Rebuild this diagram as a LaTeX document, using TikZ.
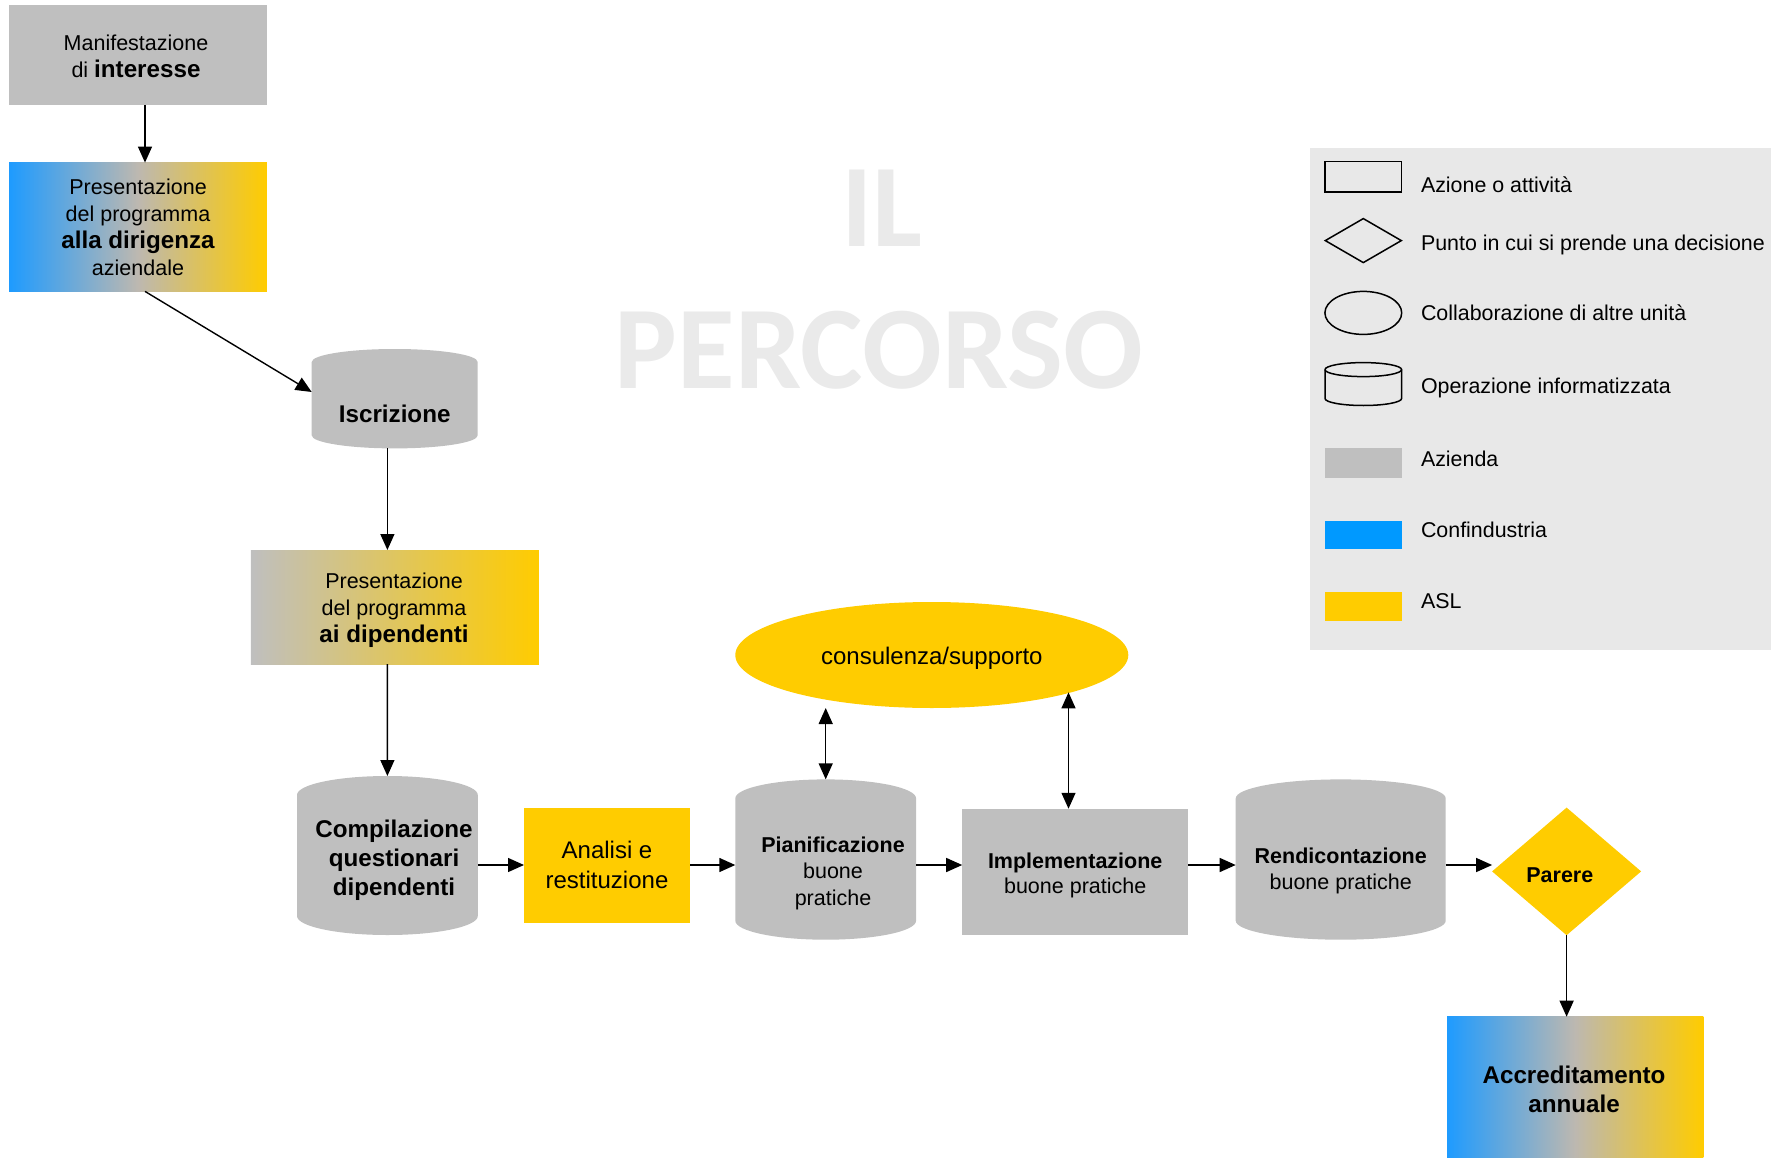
\documentclass[tikz,border=0pt]{standalone}
\usepackage{fontspec}
\setmainfont{Liberation Sans}
\newfontfamily\titlefont{Carlito}
\usetikzlibrary{shapes.geometric,arrows.meta,calc}
\definecolor{grey0}{HTML}{BFBFBF}
\definecolor{yellow0}{HTML}{FFCC00}
\definecolor{blue0}{HTML}{0099FF}
\definecolor{blueg}{HTML}{1E9BFF}
\definecolor{midg}{HTML}{BDB8B0}
\definecolor{legbg}{HTML}{E8E8E8}
\definecolor{titleg}{HTML}{EAEAEA}
\newcommand\bigb{\bfseries\fontsize{24.2}{27}\selectfont}
% #1 style, #2 cx, #3 half width, #4 top, #5 bottom, #6 ry
\newcommand\mycyl[6]{\path[#1] (#2-#3,#4+#6) arc[start angle=180,end angle=0,x radius=#3pt,y radius=#6pt] -- (#2+#3,#5-#6) arc[start angle=0,end angle=-180,x radius=#3pt,y radius=#6pt] -- cycle;}
\begin{document}
\begin{tikzpicture}[x=1pt,y=-1pt,
  every node/.style={inner sep=0pt, outer sep=0pt},
  txt/.style={align=center, font=\fontsize{21.5}{27}\selectfont},
  legtxt/.style={anchor=west, text height=15pt, text depth=0pt, font=\fontsize{21.4}{25}\selectfont},
  arr/.style={-{Triangle[length=16pt,width=14pt]}, line width=1.4pt},
  darr/.style={{Triangle[length=16pt,width=14pt]}-{Triangle[length=16pt,width=14pt]}, line width=1.4pt},
  legline/.style={draw, line width=1.5pt}]
\useasboundingbox (0,0) rectangle (1771,1158);

% title
\node[font=\titlefont\bfseries\fontsize{118}{130}\selectfont, text=titleg, anchor=base] (t1) at (882,247) {IL};
\node[font=\titlefont\bfseries\fontsize{118}{130}\selectfont, text=titleg, anchor=base] (t2) at (879,388) {PERCORSO};

% legend
\node[fill=legbg, minimum width=461pt, minimum height=501.5pt] (leg) at (1540.5,398.75) {};
\node[legline, minimum width=76.5pt, minimum height=30.5pt] (lrect) at (1363.3,176.8) {};
\node[legline, diamond, minimum width=76pt, minimum height=44pt] (ldia) at (1363.3,240.6) {};
\node[legline, ellipse, minimum width=76.8pt, minimum height=43pt] (lell) at (1363.3,312.9) {};
\mycyl{legline}{1363.3}{38.3}{362.6}{405.5}{7}
\draw[line width=1.5pt] (1363.3-38.3,362.6+7) arc[start angle=180,end angle=360,x radius=38.3pt,y radius=7pt];
\node[fill=grey0, minimum width=76.5pt, minimum height=29.4pt] (laz) at (1363.3,463.1) {};
\node[fill=blue0, minimum width=76.5pt, minimum height=28.3pt] (lcf) at (1363.3,534.9) {};
\node[fill=yellow0, minimum width=76.5pt, minimum height=29.3pt] (lasl) at (1363.3,606.6) {};
\node[legtxt] (lt1) at (1421,185.2) {Azione o attività};
\node[legtxt] (lt2) at (1421,242.8) {Punto in cui si prende una decisione};
\node[legtxt] (lt3) at (1421,312.9) {Collaborazione di altre unità};
\node[legtxt] (lt4) at (1421,386.3) {Operazione informatizzata};
\node[legtxt] (lt5) at (1421,458.6) {Azienda};
\node[legtxt] (lt6) at (1421,529.7) {Confindustria};
\node[legtxt] (lt7) at (1421,601) {ASL};

% flow
\node[fill=grey0, minimum width=258pt, minimum height=100pt] (man) at (138,55) {};
\node[txt] (mant) at (136,56.5) {Manifestazione\\di {\bigb interesse}};
\node[left color=blueg, right color=yellow0, middle color=midg, minimum width=257.6pt, minimum height=128.8pt, txt] (pres1) at (138,227) {Presentazione\\del programma\\{\bigb alla dirigenza}\\aziendale};

\mycyl{fill=grey0}{394.7}{83}{349}{448.4}{13}
\node[minimum width=166pt, minimum height=99.4pt] (iscr) at (394.7,398.7) {};
\node[font=\bigb] (iscrt) at (394.7,414) {Iscrizione};

\node[left color=grey0, right color=yellow0, minimum width=288pt, minimum height=114pt] (pres2) at (394.8,607) {};
\node[txt] (pres2t) at (394,610) {Presentazione\\del programma\\{\bigb ai dipendenti}};

\mycyl{fill=grey0}{387.4}{90.4}{776}{935}{19}
\node[minimum width=180.8pt, minimum height=159pt] (comp) at (387.4,855.5) {};
\node[align=center, font=\bfseries\fontsize{24.2}{29}\selectfont] (compt) at (394,860) {Compilazione\\questionari\\dipendenti};

\node[fill=yellow0, minimum width=166pt, minimum height=115pt, align=center, font=\fontsize{24}{29.3}\selectfont] (anal) at (607,865) {Analisi e\\restituzione};

\mycyl{fill=grey0}{825.7}{90.4}{779.4}{939.7}{19}
\node[minimum width=180.8pt, minimum height=160.3pt] (pian) at (825.7,859.5) {};
\node[align=center, font=\fontsize{21.5}{26.5}\selectfont] (piant) at (833,873.4) {{\bfseries Pianificazione}\\buone\\pratiche};

\node[ellipse, fill=yellow0, minimum width=393pt, minimum height=106pt] (cons) at (931.8,655) {};
\node[font=\fontsize{24}{28}\selectfont] (const) at (931.8,658.4) {consulenza/supporto};

\node[fill=grey0, minimum width=226pt, minimum height=126.5pt] (impl) at (1075.2,872) {};
\node[align=center, font=\fontsize{21.5}{25}\selectfont] (implt) at (1075.2,875) {{\bfseries Implementazione}\\buone pratiche};

\mycyl{fill=grey0}{1340.7}{105}{779.4}{939.7}{19}
\node[minimum width=210pt, minimum height=160.3pt] (rend) at (1340.7,859.5) {};
\node[align=center, font=\fontsize{21.5}{26}\selectfont] (rendt) at (1340.7,871.4) {{\bfseries Rendicontazione}\\buone pratiche};

\node[diamond, fill=yellow0, minimum width=149pt, minimum height=127.6pt] (par) at (1566.6,871.4) {};
\node[font=\bfseries\fontsize{21.5}{25}\selectfont] (part) at (1559.8,874.8) {Parere};

\node[left color=blueg, right color=yellow0, middle color=midg, minimum width=256.3pt, minimum height=141pt] (accr) at (1575.2,1087.2) {};
\node[align=center, font=\bfseries\fontsize{24.2}{29.5}\selectfont] (accrt) at (1574,1089.5) {Accreditamento\\annuale};

% connectors
\draw[arr] ([xshift=7pt]man.south) -- ([xshift=7pt]pres1.north);
\draw[arr] ([xshift=7pt]pres1.south) -- ([yshift=6.7pt]iscr.west);
\draw[arr] ([xshift=-7.3pt]iscr.south) -- ([xshift=-7.3pt]iscr.south |- pres2.north);
\draw[arr] ([xshift=-7.4pt]pres2.south) -- (comp.north);
\draw[arr] (comp.east |- anal.west) -- (anal.west);
\draw[arr] (anal.east) -- (anal.east -| pian.west);
\draw[arr] (pian.east |- anal.east) -- (impl.west |- anal.east);
\draw[arr] (impl.east |- anal.east) -- (rend.west |- anal.east);
\draw[arr] (rend.east |- anal.east) -- (par.west |- anal.east);
\draw[arr] (par.south) -- (par.south |- accr.north);
\draw[darr] (pian.north) -- (pian.north |- cons.south);
\draw[darr] ([xshift=-6.7pt]impl.north) -- ([xshift=-6.7pt]impl.north |- cons.-15.5);
\end{tikzpicture}
\end{document}
